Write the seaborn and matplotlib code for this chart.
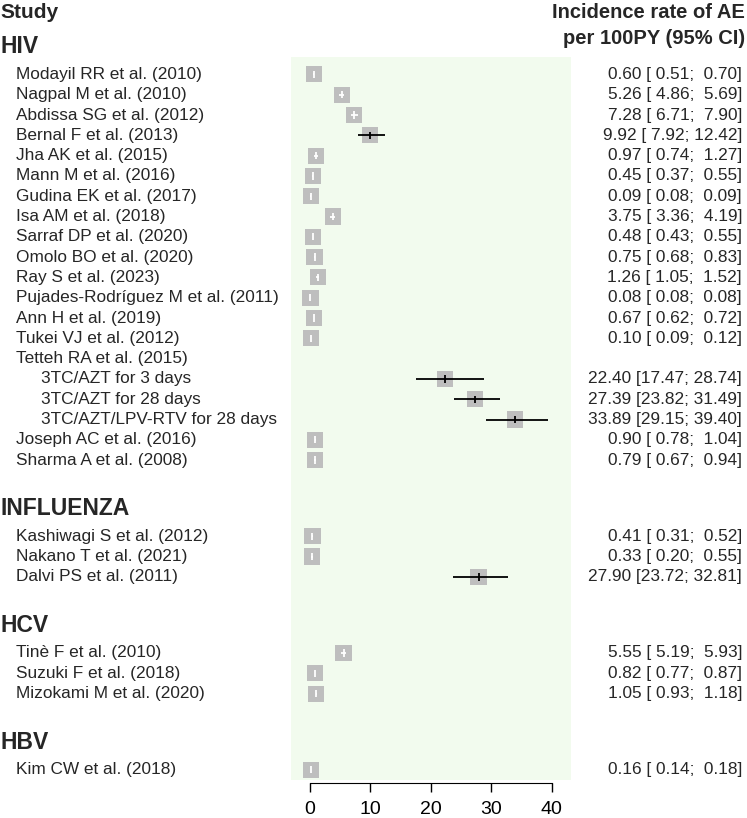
import pandas as pd
import matplotlib
matplotlib.use("Agg")
import matplotlib.pyplot as plt
import matplotlib.transforms as mtransforms
import seaborn as sns

# groups and studies
groups = ["HIV", "INFLUENZA", "HCV", "HBV"]
group_of = (["HIV"] * 20) + (["INFLUENZA"] * 3) + (["HCV"] * 3) + ["HBV"]
studies = [
    "Modayil RR et al. (2010)", "Nagpal M et al. (2010)", "Abdissa SG et al. (2012)",
    "Bernal F et al. (2013)", "Jha AK et al. (2015)", "Mann M et al. (2016)",
    "Gudina EK et al. (2017)", "Isa AM et al. (2018)", "Sarraf DP et al. (2020)",
    "Omolo BO et al. (2020)", "Ray S et al. (2023)", "Pujades-Rodríguez M et al. (2011)",
    "Ann H et al. (2019)", "Tukei VJ et al. (2012)", "Tetteh RA et al. (2015)",
    "3TC/AZT for 3 days", "3TC/AZT for 28 days", "3TC/AZT/LPV-RTV for 28 days",
    "Joseph AC et al. (2016)", "Sharma A et al. (2008)",
    "Kashiwagi S et al. (2012)", "Nakano T et al. (2021)", "Dalvi PS et al. (2011)",
    "Tinè F et al. (2010)", "Suzuki F et al. (2018)", "Mizokami M et al. (2020)",
    "Kim CW et al. (2018)",
]
is_sub = [False] * 15 + [True] * 3 + [False] * 9
est = [0.60, 5.26, 7.28, 9.92, 0.97, 0.45, 0.09, 3.75, 0.48, 0.75, 1.26, 0.08, 0.67, 0.10,
       None, 22.40, 27.39, 33.89, 0.90, 0.79,
       0.41, 0.33, 27.90,
       5.55, 0.82, 1.05,
       0.16]
lower = [0.51, 4.86, 6.71, 7.92, 0.74, 0.37, 0.08, 3.36, 0.43, 0.68, 1.05, 0.08, 0.62, 0.09,
         None, 17.47, 23.82, 29.15, 0.78, 0.67,
         0.31, 0.20, 23.72,
         5.19, 0.77, 0.93,
         0.14]
upper = [0.70, 5.69, 7.90, 12.42, 1.27, 0.55, 0.09, 4.19, 0.55, 0.83, 1.52, 0.08, 0.72, 0.12,
         None, 28.74, 31.49, 39.40, 1.04, 0.94,
         0.52, 0.55, 32.81,
         5.93, 0.87, 1.18,
         0.18]
xticks = [0, 10, 20, 30, 40]

# row layout (in row units, top = 0)
rows = []
header_y = {}
y = 0.0
for g in groups:
    header_y[g] = y
    y += 1.35
    for i, gg in enumerate(group_of):
        if gg == g:
            rows.append(y)
            y += 1
    y += 2.4 - 1

df = pd.DataFrame({"study": studies, "group": group_of, "sub": is_sub,
                   "est": est, "lower": lower, "upper": upper, "y": rows})
pts = df.dropna(subset=["est"]).copy()

W, H = 747, 818
sns.set_style("white")
plt.rcParams["font.family"] = ["Liberation Sans", "DejaVu Sans"]

fig = plt.figure(figsize=(W / 100, H / 100), dpi=100)
ax = fig.add_axes([291 / W, 1 - 780 / H, (571 - 291) / W, (780 - 57) / H])
ax.set_facecolor("#F2FBEE")

px_per_unit = 6.04
box_px = 14.7
pts["col"] = ["white" if (u - l) * px_per_unit < box_px else "black"
              for l, u in zip(pts["lower"], pts["upper"])]

sns.scatterplot(data=pts, x="est", y="y", marker="s", s=box_px ** 2 * 0.62,
                color="#BEBEBE", edgecolor="none", ax=ax, zorder=1)
ax.hlines(pts["y"], pts["lower"], pts["upper"], colors=pts["col"], linewidth=1.3, zorder=2)
ax.scatter(pts["est"], pts["y"], marker="|", s=28, c=pts["col"], linewidths=1.3, zorder=3)

ax.set_xlim((291 - 310) / px_per_unit, (571 - 310) / px_per_unit)
ax.set_ylim((780 - 47) / 20.3, (57 - 47) / 20.3)
ax.set_xlabel("")
ax.set_ylabel("")
ax.set_yticks([])
ax.set_xticks(xticks)
ax.tick_params(axis="x", direction="out", length=6.5, width=1, labelsize=14, pad=6,
               colors="black", bottom=True)
for s in ["top", "left", "right"]:
    ax.spines[s].set_visible(False)
ax.spines["bottom"].set_bounds(0, 40)
ax.spines["bottom"].set_position(("outward", 2.5))
ax.spines["bottom"].set_color("black")

tr = mtransforms.blended_transform_factory(fig.transFigure, ax.transData)
fs = 12.4
for g in groups:
    ax.text(0 / W, header_y[g], g, transform=tr, fontsize=16.5, fontweight="bold",
            va="center", ha="left", clip_on=False)
for _, r in df.iterrows():
    xl = 41 / W if r["sub"] else 16 / W
    ax.text(xl, r["y"], r["study"], transform=tr, fontsize=fs, va="center", ha="left",
            clip_on=False)
    if pd.notna(r["est"]):
        txt = f"{r['est']:.2f} [{r['lower']:5.2f}; {r['upper']:5.2f}]"
        ax.text(742 / W, r["y"], txt, transform=tr, fontsize=fs, va="center", ha="right",
                clip_on=False)

fig.text(0, 1 - 12 / H, "Study", fontsize=15, fontweight="bold", va="center", ha="left")
fig.text(745 / W, 1 - 12 / H, "Incidence rate of AE", fontsize=14.5, fontweight="bold",
         va="center", ha="right")
fig.text(745 / W, 1 - 39 / H, "per 100PY (95% CI)", fontsize=14.5, fontweight="bold",
         va="center", ha="right")

fig.savefig("out.png", dpi=100)
